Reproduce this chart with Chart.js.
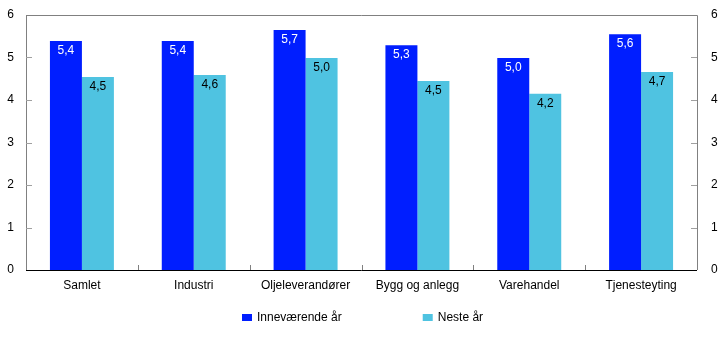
<!DOCTYPE html>
<html>
<head>
<meta charset="utf-8">
<script src="https://cdn.jsdelivr.net/npm/chart.js@4/dist/chart.umd.min.js"></script>
<style>
html,body{margin:0;padding:0;background:#fff;}
#wrap{width:722px;height:361px;position:relative;}
</style>
</head>
<body>
<div id="wrap"><canvas id="c" width="722" height="361"></canvas></div>
<script>
const categories = ["Samlet", "Industri", "Oljeleverandører", "Bygg og anlegg", "Varehandel", "Tjenesteyting"];
const seriesNames = ["Inneværende år", "Neste år"];
const currentYear = [5.39, 5.39, 5.65, 5.29, 4.99, 5.55];
const nextYear = [4.54, 4.59, 4.99, 4.45, 4.15, 4.66];
const currentYearLabels = ["5,4", "5,4", "5,7", "5,3", "5,0", "5,6"];
const nextYearLabels = ["4,5", "4,6", "5,0", "4,5", "4,2", "4,7"];
const yTicks = [0, 1, 2, 3, 4, 5, 6];

const FONT = "'Liberation Sans', Arial, sans-serif";
const BLUE = "#001EFF";
const CYAN = "#4FC3E1";

const decor = {
  id: "decor",
  afterDatasetsDraw(chart) {
    const ctx = chart.ctx;
    const a = chart.chartArea;
    const ys = chart.scales.y;
    const xs = chart.scales.x;
    ctx.save();
    // frame
    ctx.strokeStyle = "#808080";
    ctx.lineWidth = 1;
    ctx.beginPath();
    ctx.moveTo(a.left, Math.round(a.top) + 0.5);
    ctx.lineTo(Math.round(a.right) + 0.5, Math.round(a.top) + 0.5);
    ctx.lineTo(Math.round(a.right) + 0.5, a.bottom);
    ctx.moveTo(Math.round(a.left) + 0.5, a.top);
    ctx.lineTo(Math.round(a.left) + 0.5, a.bottom);
    ctx.stroke();
    // inward y ticks
    ctx.strokeStyle = "#a0a0a0";
    yTicks.forEach(v => {
      if (v === 0 || v === 6) return;
      const y = Math.round(ys.getPixelForValue(v)) + 0.5;
      ctx.beginPath();
      ctx.moveTo(a.left, y); ctx.lineTo(a.left + 6, y);
      ctx.moveTo(a.right - 6, y); ctx.lineTo(a.right, y);
      ctx.stroke();
    });
    // category boundary ticks
    ctx.strokeStyle = "#808080";
    for (let i = 0; i < categories.length - 1; i++) {
      const x = Math.round((xs.getPixelForTick(i) + xs.getPixelForTick(i + 1)) / 2) + 0.5;
      ctx.beginPath();
      ctx.moveTo(x, a.bottom); ctx.lineTo(x, a.bottom - 5);
      ctx.stroke();
    }
    // bottom axis
    ctx.strokeStyle = "#000";
    ctx.beginPath();
    ctx.moveTo(a.left, Math.round(a.bottom) + 0.5);
    ctx.lineTo(a.right, Math.round(a.bottom) + 0.5);
    ctx.stroke();
    // data labels
    ctx.font = "12px " + FONT;
    ctx.textAlign = "center";
    ctx.textBaseline = "middle";
    const labelSets = [currentYearLabels, nextYearLabels];
    const colors = ["#ffffff", "#000000"];
    chart.data.datasets.forEach((ds, di) => {
      const meta = chart.getDatasetMeta(di);
      meta.data.forEach((el, i) => {
        ctx.fillStyle = colors[di];
        ctx.fillText(labelSets[di][i], el.x, el.y + 10);
      });
    });
    // legend
    ctx.textAlign = "left";
    const boxW = 10, boxH = 7, gap = 5, spacing = 81;
    const ly = 318;
    const widths = chart.data.datasets.map(ds => ctx.measureText(ds.label).width);
    let total = 0;
    widths.forEach((w, i) => { total += boxW + gap + w + (i > 0 ? spacing : 0); });
    let x = Math.round(chart.width / 2 - total / 2) + 2;
    chart.data.datasets.forEach((ds, i) => {
      ctx.fillStyle = ds.backgroundColor;
      ctx.fillRect(x, ly - 4, boxW, boxH);
      ctx.fillStyle = "#000";
      ctx.fillText(ds.label, x + boxW + gap, ly);
      x += boxW + gap + widths[i] + spacing;
    });
    ctx.restore();
  }
};

function fixY(width) {
  return function (s) { s.width = width; s.paddingTop = 0; s.paddingBottom = 0; };
}

new Chart(document.getElementById("c"), {
  type: "bar",
  data: {
    labels: categories,
    datasets: [
      { label: seriesNames[0], data: currentYear, backgroundColor: BLUE, borderWidth: 0, yAxisID: "y" },
      { label: seriesNames[1], data: nextYear, backgroundColor: CYAN, borderWidth: 0, yAxisID: "y" }
    ]
  },
  options: {
    responsive: false,
    animation: false,
    devicePixelRatio: 1,
    categoryPercentage: 0.572,
    barPercentage: 1,
    layout: { padding: { top: 15, left: 0, right: 0, bottom: 61 } },
    plugins: {
      tooltip: { enabled: false },
      legend: { display: false }
    },
    scales: {
      x: {
        grid: { display: false, drawTicks: false },
        border: { display: false },
        ticks: { font: { family: FONT, size: 12 }, color: "#000", padding: 8, maxRotation: 0 },
        afterFit(s) { s.height = 30; s.paddingLeft = 0; s.paddingRight = 0; }
      },
      y: {
        position: "left",
        min: 0, max: 6,
        afterBuildTicks(s) { s.ticks = yTicks.map(v => ({ value: v })); },
        grid: { display: false, drawTicks: false },
        border: { display: false },
        ticks: { font: { family: FONT, size: 12 }, color: "#000", padding: 12 },
        afterFit: fixY(26)
      },
      y1: {
        position: "right",
        min: 0, max: 6,
        afterBuildTicks(s) { s.ticks = yTicks.map(v => ({ value: v })); },
        grid: { display: false, drawTicks: false },
        border: { display: false },
        ticks: { font: { family: FONT, size: 12 }, color: "#000", padding: 14 },
        afterFit: fixY(25)
      }
    }
  },
  plugins: [decor]
});
</script>
</body>
</html>
